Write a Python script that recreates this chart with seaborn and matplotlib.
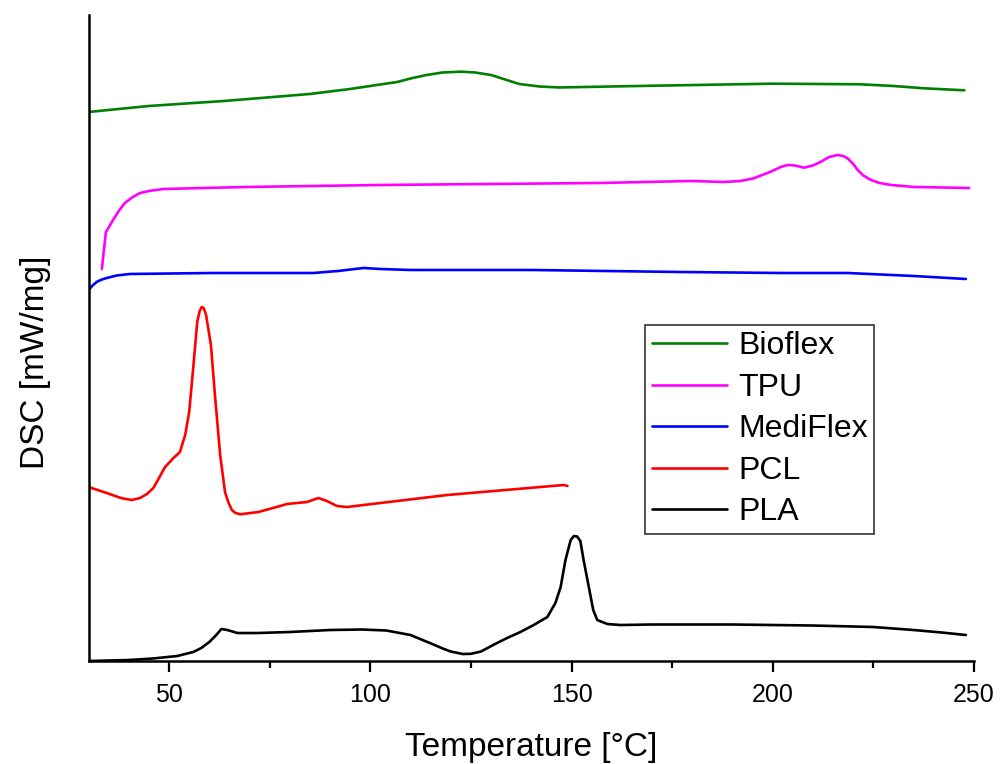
import matplotlib
matplotlib.use("Agg")
import matplotlib.pyplot as plt
import seaborn as sns
import pandas as pd
from matplotlib.ticker import MultipleLocator

# DSC curves (temperature in C, signal in arbitrary stacked units)
pla_t = [30, 40, 46, 52, 56, 58, 60, 61.5, 63, 64.5, 67, 72, 80, 90, 98, 104, 110, 116, 118, 120,
         123, 125, 127.5, 131, 134, 137.3, 140.6, 144, 146, 147.3, 148.5, 149.8, 150.6, 151.4, 152.2,
         153, 154.3, 155.4, 156.4, 158.9, 162.2, 170, 190, 210, 225, 235, 242, 248]
pla_y = [0.00, 0.01, 0.025, 0.05, 0.09, 0.13, 0.19, 0.25, 0.32, 0.31, 0.28, 0.28, 0.29, 0.31, 0.315,
         0.305, 0.26, 0.16, 0.125, 0.095, 0.07, 0.072, 0.095, 0.17, 0.23, 0.29, 0.36, 0.44, 0.58,
         0.74, 1.01, 1.21, 1.25, 1.245, 1.20, 1.01, 0.74, 0.51, 0.41, 0.37, 0.36, 0.365, 0.365,
         0.355, 0.34, 0.31, 0.285, 0.26]

pcl_t = [30, 34.5, 38, 40.7, 42.8, 44.5, 46.1, 47.5, 49, 51.1, 52.7, 54, 55, 56, 57, 57.6, 58.1,
         58.6, 59.2, 60.4, 61.4, 62.7, 63.9, 64.7, 65.6, 66.5, 67.7, 72.2, 77.6, 79.3, 84.3, 87.1,
         89.2, 91.7, 94.2, 119.1, 148.1, 149]
pcl_y = [1.74, 1.68, 1.63, 1.61, 1.63, 1.67, 1.73, 1.83, 1.94, 2.03, 2.09, 2.26, 2.49, 2.93, 3.39,
         3.50, 3.54, 3.53, 3.46, 3.16, 2.66, 2.06, 1.69, 1.59, 1.51, 1.48, 1.467, 1.49, 1.55, 1.57,
         1.59, 1.63, 1.60, 1.55, 1.54, 1.66, 1.76, 1.75]

medi_t = [30, 31, 32, 33, 34.5, 37, 40.3, 61, 74.3, 85.9, 92, 98.3, 102.5, 110, 140, 177, 202,
          218.6, 235, 248]
medi_y = [3.71, 3.755, 3.79, 3.81, 3.83, 3.855, 3.87, 3.88, 3.88, 3.88, 3.90, 3.93, 3.92, 3.91,
          3.91, 3.89, 3.88, 3.88, 3.85, 3.82]

tpu_t = [33.3, 34.3, 36.1, 37.5, 39, 41, 42.8, 45, 48.6, 69.3, 102.5, 157, 179.6, 187.9, 192,
         195.3, 199.5, 202, 203.7, 205.5, 207.8, 210, 212, 214, 216.1, 217.5, 218.6, 220, 221.1,
         222.5, 224.4, 226.5, 229.4, 235.1, 248.8]
tpu_y = [3.92, 4.29, 4.41, 4.50, 4.58, 4.64, 4.68, 4.70, 4.72, 4.74, 4.76, 4.78, 4.80, 4.79, 4.80,
         4.827, 4.893, 4.94, 4.96, 4.955, 4.933, 4.955, 4.993, 5.04, 5.06, 5.05, 5.027, 4.97, 4.91,
         4.855, 4.81, 4.78, 4.76, 4.74, 4.73]

bio_t = [30, 45, 63.7, 85, 95, 100, 106.7, 110, 114, 118, 122.6, 126, 130, 133.5, 137, 142, 147,
         160, 171, 200, 221.6, 230, 237.5, 247.6]
bio_y = [5.49, 5.55, 5.60, 5.67, 5.72, 5.75, 5.79, 5.825, 5.86, 5.885, 5.893, 5.885, 5.86, 5.815,
         5.77, 5.745, 5.735, 5.745, 5.753, 5.773, 5.767, 5.75, 5.727, 5.707]

materials = ["Bioflex", "TPU", "MediFlex", "PCL", "PLA"]
colors = ["#008000", "#ff00ff", "#0000ff", "#ff0000", "#000000"]

series = {"Bioflex": (bio_t, bio_y), "TPU": (tpu_t, tpu_y), "MediFlex": (medi_t, medi_y),
          "PCL": (pcl_t, pcl_y), "PLA": (pla_t, pla_y)}
df = pd.concat([pd.DataFrame({"T": t, "DSC": y, "material": name})
                for name, (t, y) in series.items()], ignore_index=True)

sns.set_style("ticks")
plt.rcParams["font.family"] = ["Liberation Sans", "DejaVu Sans"]
plt.rcParams["text.color"] = "black"
plt.rcParams["axes.labelcolor"] = "black"
plt.rcParams["xtick.color"] = "black"

fig = plt.figure(figsize=(10.02, 7.64), dpi=100)
ax = fig.add_axes([0.0884, 0.1348, 0.8836, 0.8456])

sns.lineplot(data=df, x="T", y="DSC", hue="material", hue_order=materials,
             palette=dict(zip(materials, colors)), estimator=None, sort=False,
             linewidth=1.9, ax=ax)

ax.set_xlim(30, 250)
ax.set_ylim(0, 6.46)
ax.xaxis.set_major_locator(MultipleLocator(50))
ax.xaxis.set_minor_locator(MultipleLocator(25))
ax.set_yticks([])
ax.tick_params(axis="x", which="major", direction="out", length=8, width=1.6,
               labelsize=18, pad=8, colors="black")
ax.tick_params(axis="x", which="minor", direction="out", length=5, width=1.6)
for side in ["top", "right"]:
    ax.spines[side].set_visible(False)
for side in ["left", "bottom"]:
    ax.spines[side].set_linewidth(1.8)
    ax.spines[side].set_color("black")

ax.set_xlabel("Temperature [°C]", fontsize=24, labelpad=18)
ax.set_ylabel("DSC [mW/mg]", fontsize=24)
ax.yaxis.set_label_coords(-0.043, 0.463)

handles, labels = ax.get_legend_handles_labels()
leg = ax.legend(handles, labels, loc="upper left", bbox_to_anchor=(0.629, 0.52),
                borderaxespad=0, fontsize=23, frameon=True, fancybox=False,
                handlelength=2.35, handletextpad=0.35, labelspacing=0.36,
                borderpad=0.2)
leg.get_frame().set_edgecolor("#333333")
leg.get_frame().set_linewidth(1.2)
leg.get_frame().set_alpha(1)
for line in leg.get_lines():
    line.set_linewidth(1.9)

fig.savefig("out.png", dpi=100)
